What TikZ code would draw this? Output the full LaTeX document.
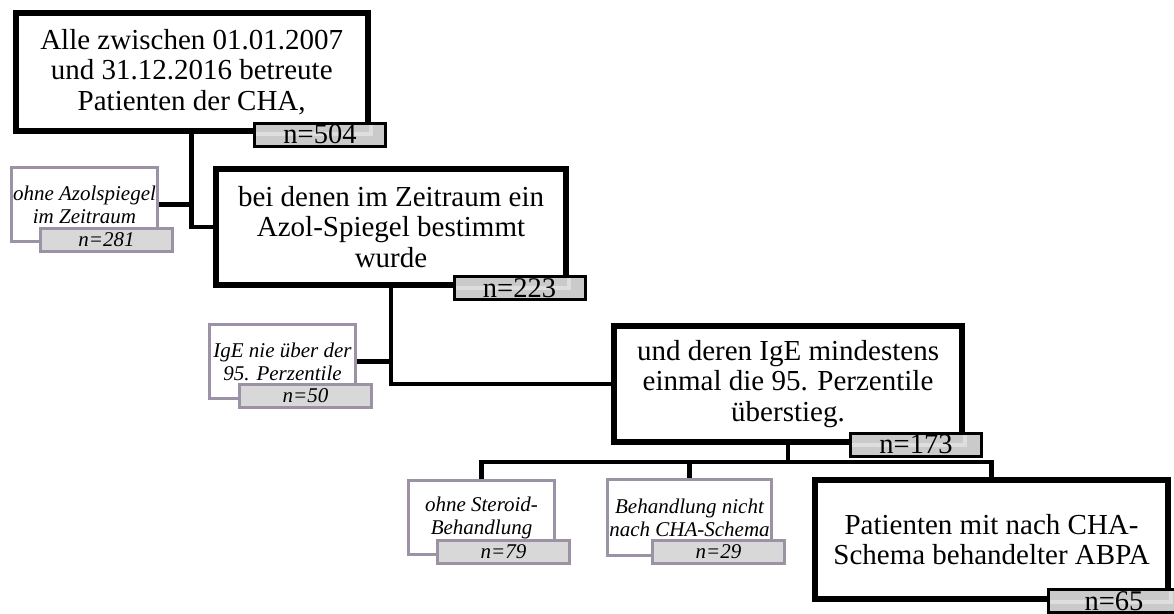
\documentclass[tikz,border=0pt]{standalone}
\usepackage{fontspec}
\setmainfont{Liberation Serif}

\definecolor{sideline}{RGB}{155,146,165}
\definecolor{nfill}{RGB}{202,202,202}
\definecolor{nshine}{RGB}{222,222,222}
\definecolor{nfilllight}{RGB}{216,216,216}

\tikzset{
    mainbox/.style={draw, line width=6pt, fill=white, align=center, inner sep=0pt,
        font=\fontsize{29}{30.5}\selectfont},
    sidebox/.style={draw=sideline, line width=3pt, fill=white, align=center, inner sep=0pt,
        font=\itshape\fontsize{21}{23}\selectfont},
    mainn/.style={draw, line width=3pt, fill=nfill, minimum width=131pt, minimum height=23pt,
        inner sep=0pt, font=\fontsize{28.5}{28.5}\selectfont,
        path picture={\draw[draw=nshine, line width=4pt]
            (path picture bounding box.west |- #1.south) -| (path picture bounding box.north -| #1.east);}},
    siden/.style={draw=sideline, line width=3pt, fill=nfilllight, minimum width=132pt,
        minimum height=23pt, inner sep=0pt, font=\itshape\fontsize{21}{21}\selectfont},
    link/.style={line width=4.5pt}
}

\begin{document}
\begin{tikzpicture}[x=1pt, y=-1pt]
        \useasboundingbox (0, 0) rectangle (1174, 613);

        \node[mainbox, minimum width=352pt, minimum height=118pt] (alle) at (191.7, 72)
            {Alle zwischen 01.01.2007\\und 31.12.2016 betreute\\Patienten der CHA,};
        \node[mainbox, minimum width=350pt, minimum height=116pt] (spiegel) at (391, 227)
            {bei denen im Zeitraum ein\\Azol-Spiegel bestimmt\\wurde};
        \node[mainbox, minimum width=348pt, minimum height=116pt] (ige) at (788, 384)
            {und deren IgE mindestens\\einmal die 95. Perzentile\\überstieg.};
        \node[mainbox, minimum width=353pt, minimum height=119pt] (abpa) at (991.5, 539.5)
            {Patienten mit nach CHA-\\Schema behandelter ABPA};

        \node[sidebox, minimum width=146pt, minimum height=74pt] (ohneazol) at (84.5, 204.5)
            {ohne Azolspiegel\\im Zeitraum};
        \node[sidebox, minimum width=146pt, minimum height=74pt] (ohneige) at (282.5, 361.5)
            {IgE nie über der\\95. Perzentile};
        \node[sidebox, minimum width=146pt, minimum height=74pt] (steroid) at (481.5, 517.5)
            {ohne Steroid-\\Behandlung};
        \node[sidebox, minimum width=164pt, minimum height=76pt] (schema) at (689.5, 517.5)
            {Behandlung nicht\\nach CHA-Schema};

        \node[mainn=alle]    (nalle)    at (320, 134.5) {n=504};
        \node[mainn=spiegel] (nspiegel) at (519.5, 288) {n=223};
        \node[mainn=ige]     (nige)     at (916, 444.5) {n=173};
        \node[mainn=abpa]    (nabpa)    at (1114, 601)  {n=65};

        \node[siden] (nohneazol) at (106.5, 240)   {n=281};
        \node[siden] (nohneige)  at (305.5, 396)   {n=50};
        \node[siden] (nsteroid)  at (503.5, 551.5) {n=79};
        \node[siden] (nschema)   at (718.5, 551.5) {n=29};

        \draw[link] (alle.south) |- (spiegel.west)
                    (ohneazol.east) -- (ohneazol.east -| alle.south);
        \draw[link] (spiegel.south) |- (ige.west)
                    (ohneige.east) -- (ohneige.east -| spiegel.south);
        \draw[link] (ige.south) -- ++(0, 17) coordinate (bus);
        \draw[link] (steroid.north) |- (bus) -| (abpa.north)
                    (schema.north) -- (schema.north |- bus);
    \end{tikzpicture}
\end{document}
